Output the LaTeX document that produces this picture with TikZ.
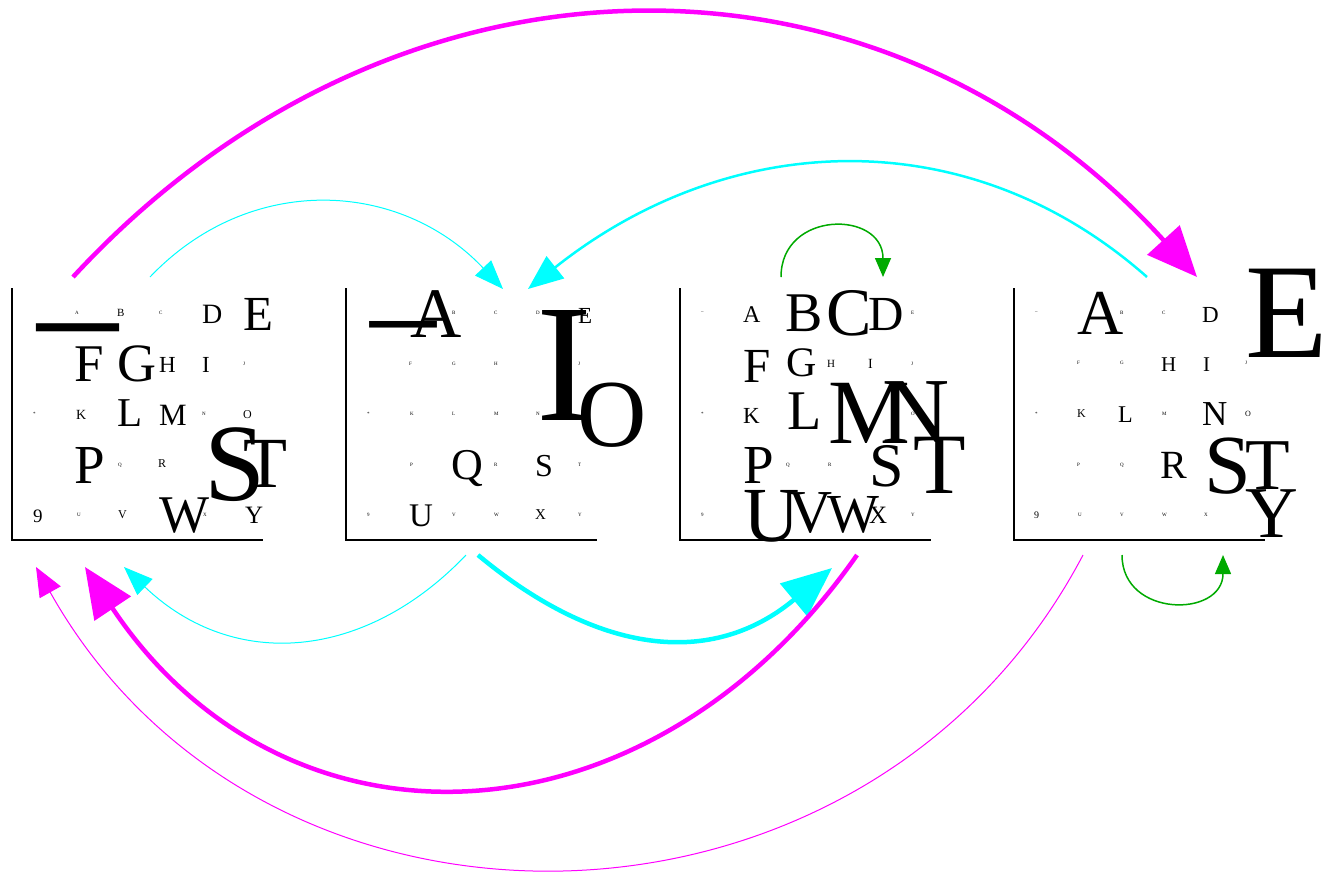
\documentclass[tikz,border=0pt]{standalone}
\usepackage{fontspec}
\setmainfont{Liberation Serif}
\usetikzlibrary{arrows.meta}
\definecolor{mag}{RGB}{255,0,255}
\definecolor{cya}{RGB}{0,255,255}
\definecolor{grn}{RGB}{0,170,0}
\tikzset{
  glyph/.style={inner sep=0pt, outer sep=0pt, anchor=west},
  axisline/.style={line width=1.2pt, draw=black},
  magthick/.style={draw=mag, line width=4.5pt, -{Triangle[length=50pt,width=43pt]}},
  magthin/.style={draw=mag, line width=1pt, -{Triangle[length=29pt,width=24pt]}},
  cyathin/.style={draw=cya, line width=1pt, -{Triangle[length=29pt,width=22pt]}},
  cyamed/.style={draw=cya, line width=2.5pt, -{Triangle[length=35pt,width=28pt]}},
  cyathick/.style={draw=cya, line width=4.5pt, -{Triangle[length=50pt,width=42pt]}},
  grnthin/.style={draw=grn, line width=1.5pt, -{Triangle[length=19pt,width=16pt]}}
}
\newcommand\gl[5]{\node[glyph] (#1) at (#2,#3) {\fontsize{#4}{#4}\selectfont #5};}
\newcommand\gb[5]{\node[glyph, anchor=base west] (#1) at (#2,#3) {\fontsize{#4}{#4}\selectfont #5};}
\begin{document}
\begin{tikzpicture}[x=1pt,y=-1pt]
\useasboundingbox (0,0) rectangle (1321,873);
% ---------- panel axes ----------
\foreach \k/\X in {1/12,2/346,3/680,4/1014}{
  \coordinate (p\k tl) at (\X,288);
  \coordinate (p\k bl) at (\X,540);
  \coordinate (p\k br) at (\X+251,540);
  \draw[axisline] (p\k tl) -- (p\k bl) -- (p\k br);
}
% ---------- panel 1 ----------
\gb{p1dash}{37}{365}{162}{–}
\gl{p1A}{75}{313}{5}{A}
\gl{p1B}{117}{313}{11}{B}
\gl{p1C}{159}{313}{5}{C}
\gl{p1D}{202}{314}{28}{D}
\gl{p1E}{243}{314}{49}{E}
\gl{p1F}{74}{364.5}{53}{F}
\gl{p1G}{117}{364}{54}{G}
\gl{p1H}{159}{364.5}{23}{H}
\gl{p1I}{202}{364.5}{23}{I}
\gl{p1J}{243}{364}{5}{J}
\gl{p1star}{33}{414}{5}{*}
\gl{p1K}{76}{414.5}{14}{K}
\gl{p1L}{117}{413.5}{41}{L}
\gl{p1M}{159}{415}{31}{M}
\gl{p1N}{202}{414}{5}{N}
\gl{p1O}{243}{414.5}{12}{O}
\gl{p1P}{74}{465}{55}{P}
\gl{p1Q}{118}{465}{5}{Q}
\gl{p1R}{158}{464}{12}{R}
\gl{p1S}{204}{465}{110}{S}
\gl{p1T}{243}{463.5}{72}{T}
\gl{p1nine}{33}{516.5}{19}{9}
\gl{p1U}{77}{515}{5}{U}
\gl{p1V}{118}{515}{12}{V}
\gl{p1W}{159}{515.5}{53}{W}
\gl{p1X}{203}{515}{5}{X}
\gl{p1Y}{245}{515}{25}{Y}
% ---------- panel 2 ----------
\gb{p2dash}{370}{355}{132}{–}
\gl{p2A}{410}{314}{71}{A}
\gl{p2B}{452}{313}{5}{B}
\gl{p2C}{494}{313}{5}{C}
\gl{p2D}{536}{313}{5}{D}
\gl{p2E}{578}{315.5}{23}{E}
\gl{p2F}{409}{364}{5}{F}
\gl{p2G}{452}{364}{5}{G}
\gl{p2H}{494}{364}{5}{H}
\gl{p2I}{536}{365}{168}{I}
\gl{p2J}{578}{364}{5}{J}
\gl{p2star}{367}{414}{5}{*}
\gl{p2K}{410}{414}{5}{K}
\gl{p2L}{452}{414}{5}{L}
\gl{p2M}{494}{414}{5}{M}
\gl{p2N}{536}{414}{5}{N}
\gl{p2O}{577}{415}{96}{O}
\gl{p2P}{410}{465}{5}{P}
\gb{p2Q}{451}{479}{44}{Q}
\gl{p2R}{494}{465}{5}{R}
\gl{p2S}{535}{466}{32}{S}
\gl{p2T}{578}{465}{5}{T}
\gl{p2nine}{367}{515}{5}{9}
\gl{p2U}{409}{516}{33}{U}
\gl{p2V}{452}{515}{5}{V}
\gl{p2W}{494}{515}{5}{W}
\gl{p2X}{535}{515}{15}{X}
\gl{p2Y}{578}{515}{5}{Y}
% ---------- panel 3 ----------
\gl{p3dash}{701}{313}{5}{–}
\gl{p3A}{743}{315}{24}{A}
\gl{p3B}{785}{313.5}{56}{B}
\gl{p3C}{826}{313.5}{68}{C}
\gl{p3D}{868}{314}{49}{D}
\gl{p3E}{911}{313}{5}{E}
\gl{p3F}{743}{366}{49}{F}
\gl{p3G}{786}{362.5}{42}{G}
\gl{p3H}{827}{364}{11}{H}
\gl{p3I}{868}{363.5}{14}{I}
\gl{p3J}{911}{364}{5}{J}
\gl{p3star}{701}{414}{5}{*}
\gl{p3K}{743}{415.5}{23}{K}
\gl{p3L}{787}{411.5}{56}{L}
\gl{p3M}{828}{413}{92}{M}
\gl{p3N}{882}{412.5}{93}{N}
\gl{p3O}{911}{414}{5}{O}
\gl{p3P}{743}{465}{55}{P}
\gl{p3Q}{786}{465}{5}{Q}
\gl{p3R}{828}{465}{5}{R}
\gl{p3S}{869}{466.5}{62}{S}
\gl{p3T}{913}{465}{86}{T}
\gl{p3nine}{701}{515}{5}{9}
\gl{p3U}{743}{516}{78}{U}
\gl{p3V}{788}{513}{61}{V}
\gl{p3W}{827}{515}{55}{W}
\gl{p3X}{869}{515}{25}{X}
\gl{p3Y}{911}{515}{5}{Y}
% ---------- panel 4 ----------
\gl{p4dash}{1035}{313}{5}{–}
\gl{p4A}{1077}{313.5}{64}{A}
\gl{p4B}{1120}{313}{5}{B}
\gl{p4C}{1162}{313}{5}{C}
\gl{p4D}{1202}{314.5}{23}{D}
\gl{p4E}{1245}{313}{135}{E}
\gl{p4F}{1077}{363}{5}{F}
\gl{p4G}{1120}{363}{5}{G}
\gl{p4H}{1161}{365}{21}{H}
\gl{p4I}{1203}{365}{21}{I}
\gl{p4J}{1245}{363}{5}{J}
\gl{p4star}{1035}{414}{5}{*}
\gl{p4K}{1077}{414}{12}{K}
\gl{p4L}{1118}{415}{24}{L}
\gl{p4M}{1162}{414}{5}{M}
\gl{p4N}{1202}{414.5}{35}{N}
\gl{p4O}{1245}{414}{8}{O}
\gl{p4P}{1077}{465}{5}{P}
\gl{p4Q}{1120}{465}{5}{Q}
\gl{p4R}{1160}{465}{40}{R}
\gl{p4S}{1204}{466}{84}{S}
\gl{p4T}{1245}{466}{73}{T}
\gl{p4nine}{1034}{515}{10}{9}
\gl{p4U}{1078}{515}{5}{U}
\gl{p4V}{1120}{515}{5}{V}
\gl{p4W}{1162}{515}{5}{W}
\gl{p4X}{1204}{515}{5}{X}
\gl{p4Y}{1245}{514}{73}{Y}
% ---------- connector end points ----------
\coordinate (m1s) at (73,277);   \coordinate (m1e) at (1197,277);
\coordinate (c1s) at (150,277);  \coordinate (c1e) at (503,289);
\coordinate (c2s) at (1147,277); \coordinate (c2e) at (528,289);
\coordinate (g1s) at (781,277);  \coordinate (g1e) at (883,277);
\coordinate (c3s) at (466,555);  \coordinate (c3e) at (124,567);
\coordinate (c4s) at (478,555);  \coordinate (c4e) at (832,568);
\coordinate (m2s) at (857,555);  \coordinate (m2e) at (85,567);
\coordinate (m3s) at (1083,555); \coordinate (m3e) at (36,567);
\coordinate (g2s) at (1122,555); \coordinate (g2e) at (1223,555);
% ---------- connectors ----------
\draw[magthick] (m1s) .. controls (395,-72) and (880,-72) .. (m1e);
\draw[cyathin]  (c1s) .. controls (250,172) and (400,180) .. (c1e);
\draw[cyamed]   (c2s) .. controls (967,118) and (728,130) .. (c2e);
\draw[grnthin]  (g1s) .. controls (781,210) and (883,210) .. (g1e);
\draw[cyathin]  (c3s) .. controls (366,660) and (234,672) .. (c3e);
\draw[cyathick] (c4s) .. controls (598,655) and (712,668) .. (c4e);
\draw[magthick] (m2s) .. controls (647,855) and (285,867) .. (m2e);
\draw[magthin]  (m3s) .. controls (868,964) and (266,976) .. (m3e);
\draw[grnthin]  (g2s) .. controls (1122,618) and (1223,618) .. (g2e);
\end{tikzpicture}
\end{document}
